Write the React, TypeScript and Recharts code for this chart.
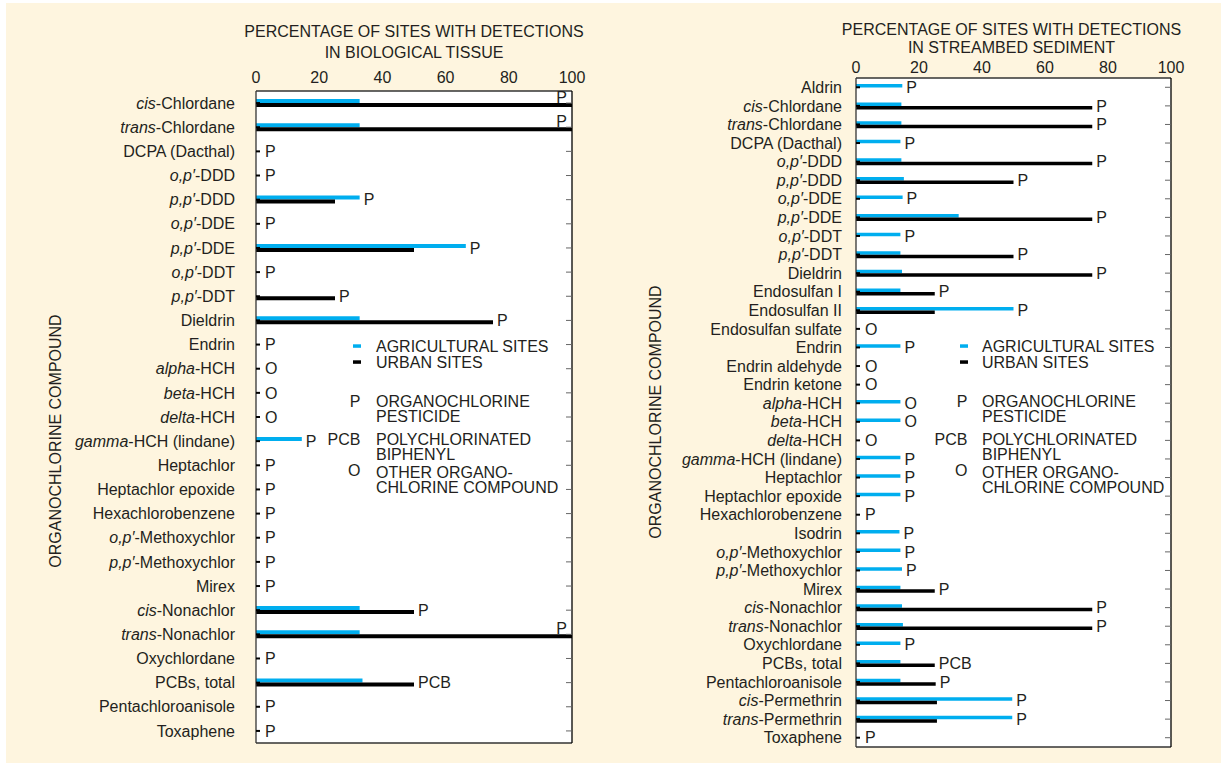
import React from "react";
import { ComposedChart, Bar, Scatter, XAxis, YAxis, CartesianGrid } from "recharts";

const FONT = '"Liberation Sans", Arial, Helvetica, sans-serif';
const INK = "#231f20";
const BLUE = "#00aeef";
const CREAM = "#fef5df";
const FRAME = "#333";

// biological tissue
const tissueCompounds = [
  "cis-Chlordane", "trans-Chlordane", "DCPA (Dacthal)", "o,p′-DDD", "p,p′-DDD", "o,p′-DDE",
  "p,p′-DDE", "o,p′-DDT", "p,p′-DDT", "Dieldrin", "Endrin", "alpha-HCH", "beta-HCH", "delta-HCH",
  "gamma-HCH (lindane)", "Heptachlor", "Heptachlor epoxide", "Hexachlorobenzene",
  "o,p′-Methoxychlor", "p,p′-Methoxychlor", "Mirex", "cis-Nonachlor", "trans-Nonachlor",
  "Oxychlordane", "PCBs, total", "Pentachloroanisole", "Toxaphene",
];
const tissueAg = [32.8, 32.8, 0, 0, 32.8, 0, 66.4, 0, 0, 32.8, 0, 0, 0, 0, 14.5, 0, 0, 0, 0, 0, 0, 32.8, 32.8, 0, 33.7, 0, 0];
const tissueUrban = [100, 100, 0, 0, 25, 0, 50, 0, 25, 75, 0, 0, 0, 0, 0, 0, 0, 0, 0, 0, 0, 50, 100, 0, 50, 0, 0];
const tissueClass = ["P", "P", "P", "P", "P", "P", "P", "P", "P", "P", "P", "O", "O", "O", "P", "P", "P", "P", "P", "P", "P", "P", "P", "P", "PCB", "P", "P"];

// streambed sediment
const sedimentCompounds = [
  "Aldrin", "cis-Chlordane", "trans-Chlordane", "DCPA (Dacthal)", "o,p′-DDD", "p,p′-DDD", "o,p′-DDE",
  "p,p′-DDE", "o,p′-DDT", "p,p′-DDT", "Dieldrin", "Endosulfan I", "Endosulfan II", "Endosulfan sulfate",
  "Endrin", "Endrin aldehyde", "Endrin ketone", "alpha-HCH", "beta-HCH", "delta-HCH",
  "gamma-HCH (lindane)", "Heptachlor", "Heptachlor epoxide", "Hexachlorobenzene", "Isodrin",
  "o,p′-Methoxychlor", "p,p′-Methoxychlor", "Mirex", "cis-Nonachlor", "trans-Nonachlor",
  "Oxychlordane", "PCBs, total", "Pentachloroanisole", "cis-Permethrin", "trans-Permethrin", "Toxaphene",
];
const sedimentAg = [14.7, 14.4, 14.4, 14.1, 14.4, 15.2, 14.8, 32.6, 14.1, 14.1, 14.6, 14.1, 50, 0, 14.1, 0, 0, 14.1, 14.1, 0, 14.1, 14.1, 14.1, 0, 13.8, 14.1, 14.6, 14.1, 14.6, 14.9, 14.1, 14.1, 14.1, 49.6, 49.6, 0];
const sedimentUrban = [0, 75, 75, 0, 75, 50, 0, 75, 0, 50, 75, 25, 25, 0, 0, 0, 0, 0, 0, 0, 0, 0, 0, 0, 0, 0, 0, 25, 75, 75, 0, 25, 25.3, 25.7, 25.7, 0];
const sedimentClass = ["P", "P", "P", "P", "P", "P", "P", "P", "P", "P", "P", "P", "P", "O", "P", "O", "O", "O", "O", "O", "P", "P", "P", "P", "P", "P", "P", "P", "P", "P", "P", "PCB", "P", "P", "P", "P"];

const pctLabels = [0, 20, 40, 60, 80, 100];
const pctMinor = [0, 10, 20, 30, 40, 50, 60, 70, 80, 90, 100];
const italicPrefixes = ["cis", "trans", "o,p′", "p,p′", "alpha", "beta", "delta", "gamma"];

type Row = { name: string; ag: number; urban: number; cls: string; tagAt: number };

const buildRows = (names: string[], ag: number[], urban: number[], cls: string[]): Row[] =>
  names.map((name, i) => ({ name, ag: ag[i], urban: urban[i], cls: cls[i], tagAt: Math.max(ag[i], urban[i]) }));

const tissueRows = buildRows(tissueCompounds, tissueAg, tissueUrban, tissueClass);
const sedimentRows = buildRows(sedimentCompounds, sedimentAg, sedimentUrban, sedimentClass);

function CompoundTick(props: any) {
  const { x, y, payload } = props;
  const name: string = payload.value;
  const cut = name.indexOf("-");
  const pre = cut > 0 ? name.slice(0, cut) : "";
  const body = italicPrefixes.includes(pre) ? (
    <>
      <tspan fontStyle="italic">{pre}</tspan>
      <tspan>{name.slice(cut)}</tspan>
    </>
  ) : (
    name
  );
  return (
    <text x={x} y={y} dy="0.355em" textAnchor="end" fill={INK} fontSize={16}>
      {body}
    </text>
  );
}

const NoLabel = () => <g />;

// P / PCB / O tag sits just past the longer of the two bars
function ClassTag(props: any) {
  const { cx, cy, payload } = props;
  if (cx == null || cy == null || !payload) return <g />;
  const atEdge = payload.tagAt >= 99;
  const gap = payload.tagAt === 0 ? 9 : 4;
  return (
    <text
      x={atEdge ? cx - 5 : cx + gap}
      y={atEdge ? cy - 6 : cy}
      dy="0.355em"
      textAnchor={atEdge ? "end" : "start"}
      fill={INK}
      fontSize={16}
    >
      {payload.cls}
    </text>
  );
}

interface PanelProps {
  rows: Row[];
  left: number;
  width: number;
  margin: { top: number; right: number; bottom: number; left: number };
  labelGap: number;
  tickGap: number;
  barSize: number;
}

function DetectionPanel({ rows, left, width, margin, labelGap, tickGap, barSize }: PanelProps) {
  return (
    <div style={{ position: "absolute", left, top: 0 }}>
      <ComposedChart
        width={width}
        height={763}
        data={rows}
        layout="vertical"
        margin={margin}
        barGap={0}
        barCategoryGap={0}
      >
        <CartesianGrid fill="#fff" horizontal={false} vertical={false} />
        <XAxis
          type="number"
          orientation="top"
          domain={[0, 100]}
          ticks={pctLabels}
          interval={0}
          height={30}
          tickSize={0}
          tickMargin={tickGap}
          tickLine={false}
          axisLine={{ stroke: FRAME, strokeWidth: 1.3 }}
          tick={{ fontSize: 16, fill: INK }}
        />
        <XAxis
          xAxisId="topTicks"
          type="number"
          orientation="top"
          mirror
          domain={[0, 100]}
          ticks={pctMinor}
          interval={0}
          tick={NoLabel}
          tickSize={4}
          tickLine={{ stroke: "#666" }}
          axisLine={false}
        />
        <XAxis
          xAxisId="bottomTicks"
          type="number"
          orientation="bottom"
          mirror
          domain={[0, 100]}
          ticks={pctMinor}
          interval={0}
          tick={NoLabel}
          tickSize={4}
          tickLine={{ stroke: "#444" }}
          axisLine={{ stroke: FRAME, strokeWidth: 1.3 }}
        />
        <YAxis
          type="category"
          dataKey="name"
          width={200}
          interval={0}
          tickSize={0}
          tickMargin={labelGap}
          tickLine={false}
          axisLine={{ stroke: FRAME, strokeWidth: 1.3 }}
          tick={<CompoundTick />}
        />
        <YAxis
          yAxisId="leftTicks"
          type="category"
          dataKey="name"
          orientation="left"
          mirror
          interval={0}
          tick={NoLabel}
          tickSize={4}
          tickLine={{ stroke: "#000", strokeWidth: 2 }}
          axisLine={false}
        />
        <YAxis
          yAxisId="rightTicks"
          type="category"
          dataKey="name"
          orientation="right"
          mirror
          interval={0}
          tick={NoLabel}
          tickSize={6}
          tickLine={{ stroke: "#666" }}
          axisLine={{ stroke: "#000", strokeWidth: 1.3 }}
        />
        <Bar dataKey="ag" fill={BLUE} barSize={barSize} isAnimationActive={false} />
        <Bar dataKey="urban" fill="#000" barSize={barSize} isAnimationActive={false} />
        <Scatter dataKey="tagAt" shape={ClassTag} isAnimationActive={false} legendType="none" />
      </ComposedChart>
    </div>
  );
}

const legendNotes = [
  { sym: "P", y: 401, lines: ["ORGANOCHLORINE", "PESTICIDE"], ly: [401, 416] },
  { sym: "PCB", y: 439.5, lines: ["POLYCHLORINATED", "BIPHENYL"], ly: [439.5, 454.5] },
  { sym: "O", y: 470, lines: ["OTHER ORGANO-", "CHLORINE COMPOUND"], ly: [472.5, 487.5] },
];

function KeyBlock({ dashX, textX }: { dashX: number; textX: number }) {
  return (
    <g fontSize={16} fill={INK}>
      <rect x={dashX} y={344.3} width={8} height={3.5} fill={BLUE} />
      <text x={textX} y={346} dy="0.355em">AGRICULTURAL SITES</text>
      <rect x={dashX} y={360.3} width={8} height={3.5} fill="#000" />
      <text x={textX} y={362} dy="0.355em">URBAN SITES</text>
      {legendNotes.map((n) => (
        <g key={n.sym}>
          <text x={dashX + 7.5} y={n.y} dy="0.355em" textAnchor="end">{n.sym}</text>
          {n.lines.map((l, i) => (
            <text key={l} x={textX} y={n.ly[i]} dy="0.355em">{l}</text>
          ))}
        </g>
      ))}
    </g>
  );
}

export default function App() {
  return (
    <div
      style={{
        position: "fixed",
        left: 0,
        top: 0,
        width: 1221,
        height: 763,
        background: "#fff",
        fontFamily: FONT,
        overflow: "hidden",
      }}
    >
      <div style={{ position: "absolute", left: 6, top: 3, width: 1215, height: 760, background: CREAM }} />
      <DetectionPanel
        rows={tissueRows}
        left={0}
        width={610}
        margin={{ top: 61, right: 38, bottom: 20, left: 56 }}
        labelGap={21}
        tickGap={8}
        barSize={4}
      />
      <DetectionPanel
        rows={sedimentRows}
        left={610}
        width={611}
        margin={{ top: 48, right: 50, bottom: 16, left: 46 }}
        labelGap={14}
        tickGap={4.7}
        barSize={3.5}
      />
      <svg
        width={1221}
        height={763}
        style={{ position: "absolute", left: 0, top: 0, pointerEvents: "none" }}
      >
        <g fontSize={16} fill={INK} textAnchor="middle">
          <text x={414} y={31.7} dy="0.355em">PERCENTAGE OF SITES WITH DETECTIONS</text>
          <text x={414} y={52.3} dy="0.355em">IN BIOLOGICAL TISSUE</text>
          <text x={1011.5} y={29.3} dy="0.355em">PERCENTAGE OF SITES WITH DETECTIONS</text>
          <text x={1011.5} y={47.7} dy="0.355em">IN STREAMBED SEDIMENT</text>
          <text x={55} y={441} dy="0.355em" transform="rotate(-90 55 441)">ORGANOCHLORINE COMPOUND</text>
          <text x={655} y={412} dy="0.355em" transform="rotate(-90 655 412)">ORGANOCHLORINE COMPOUND</text>
        </g>
        <KeyBlock dashX={353} textX={376} />
        <KeyBlock dashX={960} textX={982} />
      </svg>
    </div>
  );
}
